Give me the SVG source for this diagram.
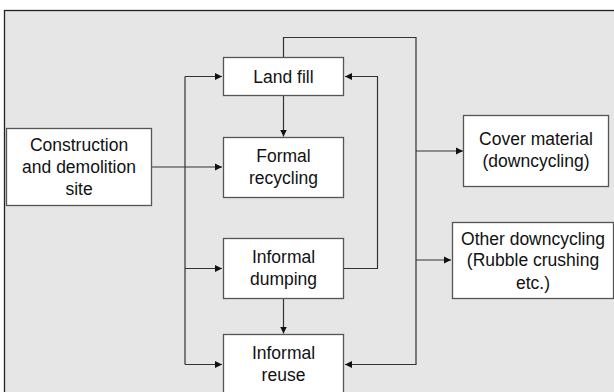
<svg xmlns="http://www.w3.org/2000/svg" width="614" height="392" viewBox="0 0 614 392">
<style>
.box{fill:#fff;stroke:#555;stroke-width:1.3}
.t{font-family:"Liberation Sans",Arial,sans-serif;font-size:17.5px;fill:#111;text-anchor:middle}
.c{fill:none;stroke:#333;stroke-width:1.2}
</style>
<defs>
<marker id="a" markerWidth="8" markerHeight="8" refX="7" refY="4" orient="auto" markerUnits="userSpaceOnUse">
<path d="M0,0.5 L7,4 L0,7.5 Z" fill="#111"/>
</marker>
</defs>
<rect x="0" y="0" width="614" height="392" fill="#fff"/>
<rect x="4.5" y="10.5" width="620" height="400" fill="#e6e6e6" stroke="#222" stroke-width="1.3"/>
<g id="connectors">
<path class="c" d="M151,167 H222" marker-end="url(#a)"/>
<path class="c" d="M185,76.5 V364.5"/>
<path class="c" d="M185,76.5 H222" marker-end="url(#a)"/>
<path class="c" d="M185,268.5 H222" marker-end="url(#a)"/>
<path class="c" d="M185,364.5 H222" marker-end="url(#a)"/>
<path class="c" d="M283.5,96 V136.5" marker-end="url(#a)"/>
<path class="c" d="M283.5,58 V37.5 H416 V364.5 H345" marker-end="url(#a)"/>
<path class="c" d="M416,151 H463" marker-end="url(#a)"/>
<path class="c" d="M416,260 H451" marker-end="url(#a)"/>
<path class="c" d="M344,268.5 H377.5 V76.5 H345" marker-end="url(#a)"/>
<path class="c" d="M283.5,299 V333.5" marker-end="url(#a)"/>
</g>
<g id="construction">
<rect class="box" x="6.5" y="128.5" width="145" height="77"/>
<text class="t" x="79" y="151">Construction</text>
<text class="t" x="79" y="173">and demolition</text>
<text class="t" x="79" y="195">site</text>
</g>
<g id="landfill">
<rect class="box" x="223.5" y="57.5" width="120" height="38"/>
<text class="t" x="283.5" y="82.5">Land fill</text>
</g>
<g id="formal-recycling">
<rect class="box" x="223.5" y="137.5" width="120" height="60"/>
<text class="t" x="283.5" y="162">Formal</text>
<text class="t" x="283.5" y="184">recycling</text>
</g>
<g id="informal-dumping">
<rect class="box" x="223.5" y="238.5" width="120" height="60"/>
<text class="t" x="283.5" y="263">Informal</text>
<text class="t" x="283.5" y="285">dumping</text>
</g>
<g id="informal-reuse">
<rect class="box" x="223.5" y="334.5" width="120" height="70"/>
<text class="t" x="283.5" y="358.5">Informal</text>
<text class="t" x="283.5" y="381">reuse</text>
</g>
<g id="cover-material">
<rect class="box" x="463.5" y="115.5" width="145" height="71"/>
<text class="t" x="536" y="145">Cover material</text>
<text class="t" x="536" y="167">(downcycling)</text>
</g>
<g id="other-downcycling">
<rect class="box" x="452.5" y="222.5" width="161" height="76"/>
<text class="t" x="533" y="244.5">Other downcycling</text>
<text class="t" x="533" y="266">(Rubble crushing</text>
<text class="t" x="533" y="288.5">etc.)</text>
</g>
</svg>
